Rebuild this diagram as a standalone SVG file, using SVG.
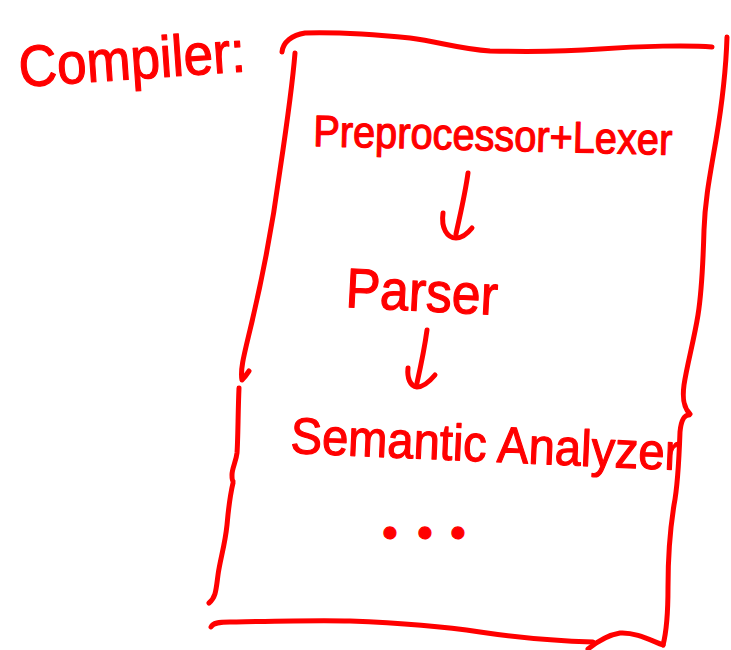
<svg xmlns="http://www.w3.org/2000/svg" width="731" height="650" viewBox="0 0 731 650">
  <style>
    .ink { fill: none; stroke: #ff0000; stroke-width: 5; stroke-linecap: round; stroke-linejoin: round; }
    .label { fill: #ff0000; stroke: #ff0000; stroke-width: 1.2; stroke-linejoin: round; font-family: "Liberation Sans", Arial, sans-serif; }
  </style>
  <rect width="731" height="650" fill="#ffffff"/>

  <!-- Title -->
  <g id="title">
    <text class="label" x="20" y="87" font-size="58" textLength="227" lengthAdjust="spacingAndGlyphs" transform="rotate(-4 20 87)">Compiler:</text>
  </g>

  <!-- Hand-drawn frame around the compiler stages -->
  <g id="compiler-box">
    <path class="ink" d="M282,52 C283,42 292,35 305,33 C340,32 380,35 410,38 C440,42 460,49 490,51 C530,52 560,52 600,49 C640,46 690,45 712,47"/>
    <path class="ink" d="M727,37 C726,70 721,110 716,140 C710,175 705,200 704,230 C703,265 702,290 698,315 C694,340 687,365 684,385 C682,400 684,408 690,414"/>
    <path class="ink" d="M689,415 C684,415 681,421 680,432 C679,460 677,490 674,505 C670,530 668,550 668,587 C668,610 667,630 663,645"/>
    <path class="ink" d="M211,627 C213,623 218,622 230,622 C280,621 320,620 350,621 C400,623 440,626 480,632 C520,638 555,641 593,642"/>
    <path class="ink" d="M588,649 C598,641 608,635 620,633 C635,632 650,640 663,645"/>
    <path class="ink" d="M295,53 C292,90 286,130 280,170 C272,230 262,280 250,330 C244,355 240,370 242,380 C244,378 247,374 249,371"/>
    <path class="ink" d="M239,388 C238,410 238,440 237,453 C236,462 232,468 232,475 C232,478 232,480 233,481"/>
    <path class="ink" d="M233,483 C229,500 228,515 227,525 C225,545 220,560 218,575 C216,590 216,597 209,603"/>
  </g>

  <!-- Stages -->
  <g id="preprocessor-lexer">
    <text class="label" x="313" y="146" font-size="44" textLength="359" lengthAdjust="spacingAndGlyphs" transform="rotate(1.4 313 146)">Preprocessor+Lexer</text>
  </g>
  <g id="parser">
    <text class="label" x="345" y="307" font-size="56" textLength="152" lengthAdjust="spacingAndGlyphs" transform="rotate(3 345 307)">Parser</text>
  </g>
  <g id="semantic-analyzer">
    <text class="label" x="290" y="453" font-size="51" textLength="390" lengthAdjust="spacingAndGlyphs" transform="rotate(2.5 290 453)">Semantic Analyzer</text>
  </g>
  <g id="more-stages">
    <text class="label" x="390 425 458" y="548" font-size="44" text-anchor="middle">•••</text>
  </g>

  <!-- Flow arrows between stages -->
  <g id="connectors">
    <path class="ink" d="M468,173 C465,195 460,215 456,234"/>
    <path class="ink" d="M443,213 C441,228 447,238 456,238 C463,238 468,233 472,228"/>
    <path class="ink" d="M427,330 C425,345 421,365 417,383"/>
    <path class="ink" d="M408,368 C407,378 410,386 417,387 C424,387 430,381 435,375"/>
  </g>
</svg>
